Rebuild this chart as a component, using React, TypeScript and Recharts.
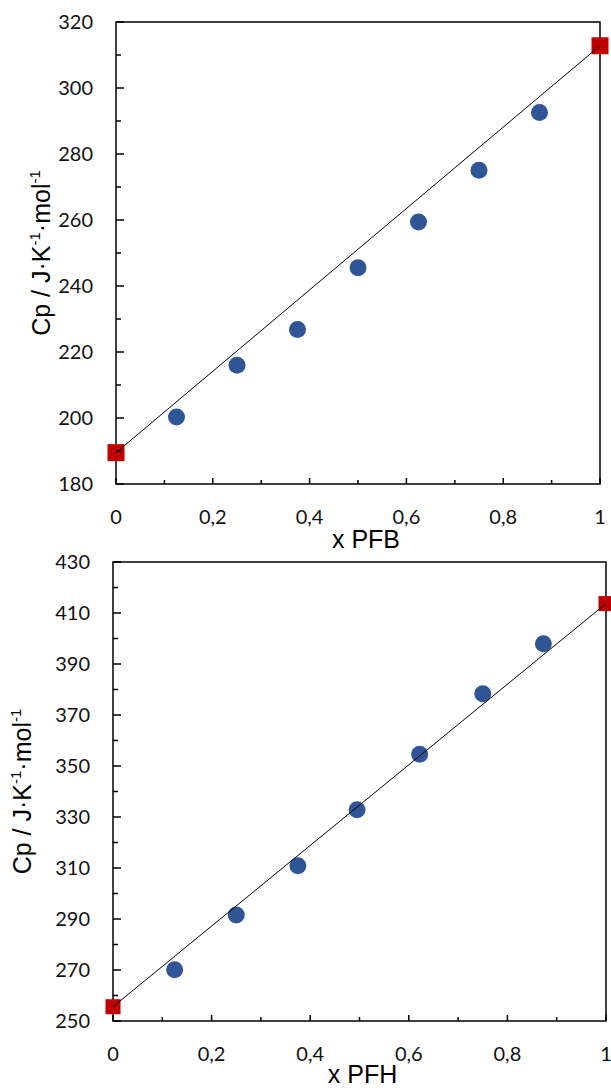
import React from "react";
import { ComposedChart, Scatter, Line, XAxis, YAxis, ReferenceArea, Label } from "recharts";

// upper panel, mixtures with PFB
const pfbX = [0.125, 0.25, 0.375, 0.5, 0.625, 0.75, 0.875];
const pfbCp = [200.3, 216.0, 226.8, 245.5, 259.4, 275.1, 292.6];
const pfbPureX = [0, 1];
const pfbPureCp = [189.5, 312.8];

// lower panel, mixtures with PFH
const pfhX = [0.125, 0.25, 0.375, 0.495, 0.622, 0.75, 0.873];
const pfhCp = [270.1, 291.6, 310.9, 332.8, 354.6, 378.3, 397.9];
const pfhPureX = [0, 1];
const pfhPureCp = [255.6, 413.7];

const xTicks = [0, 0.1, 0.2, 0.3, 0.4, 0.5, 0.6, 0.7, 0.8, 0.9, 1];
const pfbTicks = [180, 190, 200, 210, 220, 230, 240, 250, 260, 270, 280, 290, 300, 310, 320];
const pfhTicks = [250, 260, 270, 280, 290, 300, 310, 320, 330, 340, 350, 360, 370, 380, 390, 400, 410, 420, 430];

const TICK_FONT = "Lato, 'Open Sans', sans-serif";
const TITLE_FONT = "'Liberation Sans', Arial, sans-serif";

const toPoints = (xs: number[], ys: number[]) => xs.map((x, i) => ({ x, y: ys[i] }));

const blueDot = (p: any) => <circle cx={p.cx} cy={p.cy} r={8.5} fill="#2F5597" />;
const redSquare = (size: number) => (p: any) => (
  <rect x={p.cx - size / 2} y={p.cy - size / 2} width={size} height={size} fill="#C00000" />
);

function makeYTick(base: number) {
  return (props: any) => {
    const { x, y, payload } = props;
    const v = payload.value as number;
    const major = (v - base) % 20 === 0;
    return (
      <g>
        <line x1={x} x2={x + (major ? 8 : 5)} y1={y} y2={y} stroke="#000" strokeWidth={1.5} />
        {major && (
          <text x={x - 23} y={y} dy="0.35em" textAnchor="end" fontFamily={TICK_FONT} fontSize={20} fill="#111">
            {v}
          </text>
        )}
      </g>
    );
  };
}

const xTick = (props: any) => {
  const { x, y, payload } = props;
  const v = payload.value as number;
  const major = Math.round(v * 10) % 2 === 0;
  return (
    <g>
      <line x1={x} x2={x} y1={y} y2={y - (major ? 6 : 4)} stroke="#000" strokeWidth={1.5} />
      {major && (
        <text x={x} y={y + 40} textAnchor="middle" fontFamily={TICK_FONT} fontSize={20} fill="#111">
          {String(v).replace(".", ",")}
        </text>
      )}
    </g>
  );
};

function yTitle(baselineX: number) {
  return (props: any) => {
    const vb = props.viewBox;
    const cy = vb.y + vb.height / 2;
    return (
      <text
        transform={`translate(${baselineX} ${cy}) rotate(-90)`}
        textAnchor="middle"
        fontFamily={TITLE_FONT}
        fontSize={25}
        fill="#000"
      >
        Cp / J·K
        <tspan fontSize={15} dy={-10}>-1</tspan>
        <tspan dy={10}>·mol</tspan>
        <tspan fontSize={15} dy={-10}>-1</tspan>
      </text>
    );
  };
}

function xTitle(text: string, dx: number, dy: number) {
  return (props: any) => {
    const vb = props.viewBox;
    return (
      <text
        x={vb.x + vb.width / 2 + dx}
        y={vb.y + dy}
        textAnchor="middle"
        fontFamily={TITLE_FONT}
        fontSize={25}
        fill="#000"
      >
        {text}
      </text>
    );
  };
}

type PanelProps = {
  top: number;
  height: number;
  axisWidth: number;
  xAxisHeight: number;
  marginRight: number;
  mixX: number[];
  mixCp: number[];
  pureX: number[];
  pureCp: number[];
  yDomain: [number, number];
  yTicks: number[];
  xLabel: string;
  xLabelDx: number;
  xLabelDy: number;
  yLabelX: number;
  squareSize: number;
};

function Panel(p: PanelProps) {
  const mix = toPoints(p.mixX, p.mixCp);
  const pure = toPoints(p.pureX, p.pureCp);
  return (
    <div style={{ position: "absolute", left: 0, top: p.top }}>
      <ComposedChart
        width={611}
        height={p.height}
        margin={{ top: 22, right: p.marginRight, bottom: 0, left: 0 }}
      >
        <XAxis
          dataKey="x"
          type="number"
          domain={[0, 1]}
          ticks={xTicks}
          interval={0}
          tickSize={0}
          tickMargin={0}
          height={p.xAxisHeight}
          axisLine={false}
          tickLine={false}
          tick={xTick}
        >
          <Label content={xTitle(p.xLabel, p.xLabelDx, p.xLabelDy)} />
        </XAxis>
        <YAxis
          dataKey="y"
          type="number"
          domain={p.yDomain}
          ticks={p.yTicks}
          interval={0}
          tickSize={0}
          tickMargin={0}
          width={p.axisWidth}
          axisLine={false}
          tickLine={false}
          tick={makeYTick(p.yDomain[0])}
        >
          <Label content={yTitle(p.yLabelX)} />
        </YAxis>
        <ReferenceArea
          x1={0}
          x2={1}
          y1={p.yDomain[0]}
          y2={p.yDomain[1]}
          fill="none"
          fillOpacity={0}
          stroke="#000"
          strokeWidth={1.5}
          ifOverflow="visible"
        />
        <Scatter data={mix} shape={blueDot} isAnimationActive={false} />
        <Scatter data={pure} shape={redSquare(p.squareSize)} isAnimationActive={false} />
        <Line
          data={pure}
          dataKey="y"
          type="linear"
          stroke="#000"
          strokeWidth={1}
          dot={false}
          activeDot={false}
          isAnimationActive={false}
          {...({ zIndex: 700 } as any)}
        />
      </ComposedChart>
    </div>
  );
}

export default function App() {
  return (
    <div style={{ position: "absolute", left: 0, top: 0, width: 611, height: 1090, background: "#fff", overflow: "hidden" }}>
      <Panel
        top={0}
        height={552}
        axisWidth={116}
        xAxisHeight={68}
        marginRight={11}
        mixX={pfbX}
        mixCp={pfbCp}
        pureX={pfbPureX}
        pureCp={pfbPureCp}
        yDomain={[180, 320]}
        yTicks={pfbTicks}
        xLabel="x PFB"
        xLabelDx={8}
        xLabelDy={64}
        yLabelX={50}
        squareSize={17}
      />
      <Panel
        top={540}
        height={550}
        axisWidth={113}
        xAxisHeight={69}
        marginRight={5}
        mixX={pfhX}
        mixCp={pfhCp}
        pureX={pfhPureX}
        pureCp={pfhPureCp}
        yDomain={[250, 430]}
        yTicks={pfhTicks}
        xLabel="x PFH"
        xLabelDx={3}
        xLabelDy={62}
        yLabelX={31}
        squareSize={15}
      />
    </div>
  );
}
